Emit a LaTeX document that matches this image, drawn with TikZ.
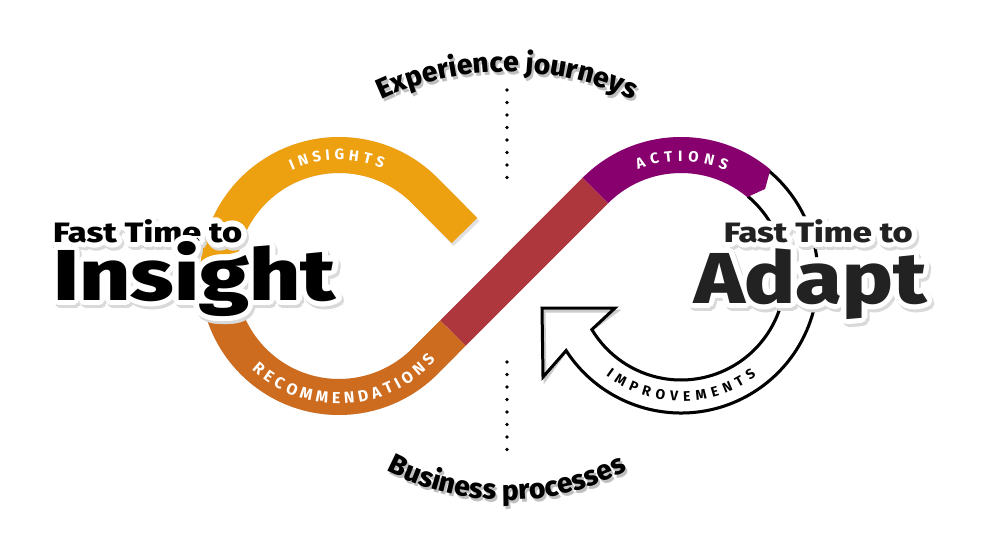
\documentclass[tikz,border=0pt]{standalone}
\usepackage{fontspec}
\IfFontExistsTF{Fira Sans Heavy}
  {\newfontfamily\heavyfont{Fira Sans Heavy}}
  {\IfFontExistsTF{Fira Sans ExtraBold}
    {\newfontfamily\heavyfont{Fira Sans ExtraBold}}
    {\newfontfamily\heavyfont{Fira Sans Bold}}}
\newfontfamily\labelfont{Fira Sans}
\usepackage{tikz}
\usetikzlibrary{calc,decorations.text}

\definecolor{insightorange}{HTML}{EDA010}
\definecolor{recorange}{HTML}{CD6B1E}
\definecolor{crossred}{HTML}{AE373E}
\definecolor{actionpurple}{HTML}{87006E}
\definecolor{adaptgray}{HTML}{222222}

\tikzset{
  band/.style={line width=36, line cap=butt},
  bandshadow/.style={line width=36, line cap=butt, black!12, shift={(2,3)}},
  bigword/.style={inner sep=0, font=\heavyfont\fontsize{72}{72}\selectfont},
  smallword/.style={inner sep=0, xscale=1.23, font=\heavyfont\fontsize{28}{28}\selectfont},
}

% text with a white halo and a soft shadow
\newcommand\halotext[4]{%
  \foreach \ang in {0,20,...,340}
    \node[#3, text=black!15] at ($(#2)+(2,3)+(\ang:5.5)$) {#4};
  \foreach \ang in {0,20,...,340}
    \node[#3, text=white] at ($(#2)+(\ang:5.5)$) {#4};
  \node[#3] (#1) at (#2) {#4};
}

\begin{document}
\begin{tikzpicture}[x=1pt,y=-1pt]
\useasboundingbox (0,0) rectangle (1000,545);

\coordinate (lc) at (339,276);  % left loop
\coordinate (rc) at (681,276);  % right loop
\coordinate (ej) at (507,372);  % centre of upper caption arc
\coordinate (bp) at (507,240);  % centre of lower caption arc

% dotted divider
\foreach \y in {90,102.5,...,178}
  \fill (507,\y) circle[radius=1.8];
\foreach \y in {362,374.5,...,450}
  \fill (507,\y) circle[radius=1.8];

% shadows of the bands
\draw[bandshadow] (464.5,230.5) -- ($(lc)+(-45:121)$)
  arc[start angle=-45, end angle=-315, radius=121] -- ($(rc)+(-135:121)$)
  arc[start angle=-135, end angle=-50, radius=121];

% infinity band
\draw[band, insightorange] (464.5,230.5) -- ($(lc)+(-45:121)$)
  arc[start angle=-45, end angle=-180, radius=121];
\draw[band, recorange] ($(lc)+(180:121)$)
  arc[start angle=180, end angle=45, radius=121] -- (453,333);
\draw[band, crossred] (453,333) -- ($(rc)+(-135:121)$);

% improvements arrow
\fill[white] ($(rc)+(-50:137)$) arc[start angle=-50, end angle=147, radius=137]
  -- (543,377) -- (542,308) -- (615,308) -- ($(rc)+(149:104)$)
  arc[start angle=149, end angle=-50, radius=104] -- cycle;
\draw[black!20, line width=3, shift={(2,3)}] ($(rc)+(-50:104)$)
  arc[start angle=-50, end angle=149, radius=104] -- (615,308) -- (542,308)
  -- (543,377) -- ($(rc)+(147:137)$) arc[start angle=147, end angle=-50, radius=137];
\draw[line width=3] ($(rc)+(-50:104)$)
  arc[start angle=-50, end angle=149, radius=104] -- (615,308) -- (542,308)
  -- (543,377) -- ($(rc)+(147:137)$) arc[start angle=147, end angle=-50, radius=137];

\fill[actionpurple] ($(rc)+(-135:139)$) arc[start angle=-135, end angle=-50, radius=139]
  -- ($(rc)+(-46:121)$) -- ($(rc)+(-50:103)$)
  arc[start angle=-50, end angle=-135, radius=103] -- cycle;

% band labels
\path[decorate, decoration={text along path, text align=fit to path,
  text={|\color{white}\labelfont\bfseries\fontsize{15}{15}\selectfont|INSIGHTS}}]
  ($(lc)+(-114:116)$) arc[start angle=-114, end angle=-68, radius=116];
\path[decorate, decoration={text along path, text align=fit to path,
  text={|\color{white}\labelfont\bfseries\fontsize{16}{16}\selectfont|RECOMMENDATIONS}}]
  ($(lc)+(133:128)$) arc[start angle=133, end angle=41, radius=128];
\path[decorate, decoration={text along path, text align=fit to path,
  text={|\color{white}\labelfont\bfseries\fontsize{15}{15}\selectfont|ACTIONS}}]
  ($(rc)+(-112:115)$) arc[start angle=-112, end angle=-67, radius=115];
\path[decorate, decoration={text along path, text align=fit to path,
  text={|\labelfont\bfseries\fontsize{14}{14}\selectfont|IMPROVEMENTS}}]
  ($(rc)+(127:125)$) arc[start angle=127, end angle=53, radius=125];

% captions on arcs
\path[decorate, decoration={text along path, text align=center,
  text={|\color{black!25}\heavyfont\fontsize{28}{28}\selectfont|Experience journeys}}]
  ($(ej)+(2,3)+(-140:300)$) arc[start angle=-140, end angle=-40, radius=300];
\path[decorate, decoration={text along path, text align=center,
  text={|\heavyfont\fontsize{28}{28}\selectfont|Experience journeys}}]
  ($(ej)+(-140:300)$) arc[start angle=-140, end angle=-40, radius=300];
\path[decorate, decoration={text along path, text align=center,
  text={|\color{black!25}\heavyfont\fontsize{28}{28}\selectfont|Business processes}}]
  ($(bp)+(2,3)+(140:260)$) arc[start angle=140, end angle=40, radius=260];
\path[decorate, decoration={text along path, text align=center,
  text={|\heavyfont\fontsize{28}{28}\selectfont|Business processes}}]
  ($(bp)+(140:260)$) arc[start angle=140, end angle=40, radius=260];

% headline texts
\coordinate (fastl) at (53,242);
\coordinate (insightpos) at (53,300);
\coordinate (fastr) at (913,242);
\coordinate (adaptpos) at (927,303);
\halotext{fastleft}{fastl}{smallword, anchor=base west}{Fast Time to}
\halotext{insight}{insightpos}{bigword, xscale=1.24, anchor=base west}{Insight}
\halotext{fastright}{fastr}{smallword, anchor=base east, adaptgray}{Fast Time to}
\halotext{adapt}{adaptpos}{bigword, xscale=1.18, anchor=base east, adaptgray}{Adapt}

\end{tikzpicture}
\end{document}
